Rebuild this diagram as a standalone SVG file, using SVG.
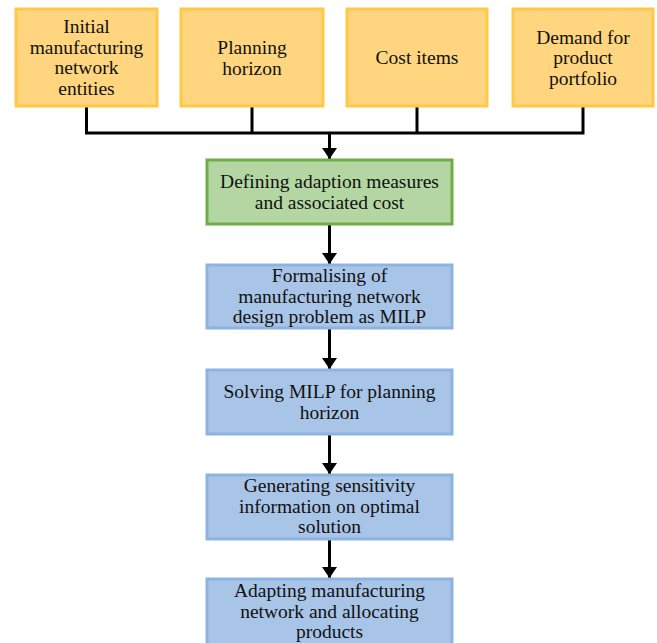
<svg xmlns="http://www.w3.org/2000/svg" width="657" height="643" viewBox="0 0 657 643">
<style>
.in rect{fill:#FFD57F;stroke:#FFC845;stroke-width:3}
.gr rect{fill:#B3D6A2;stroke:#70AD47;stroke-width:3}
.bl rect{fill:#A8C4E6;stroke:#8DB3E2;stroke-width:3}
text{font-family:"Liberation Serif","Times New Roman",serif;font-size:19.5px;fill:#111;text-anchor:middle}
.c{fill:none;stroke:#000;stroke-width:3}
</style>
<defs>
<marker id="ah" markerUnits="userSpaceOnUse" markerWidth="12" markerHeight="16" refX="11" refY="7.5" orient="auto">
<path d="M0,0 L11,7.5 L0,15 Z" fill="#000"/>
</marker>
</defs>
<rect width="657" height="643" fill="#fff"/>
<g id="connectors">
<path class="c" d="M86.5,107 V133 M252,107 V133 M417,107 V133 M583,107 V133 M85,133 H584.5"/>
<path class="c" d="M329.5,133 V159" marker-end="url(#ah)"/>
<path class="c" d="M329.5,225 V264" marker-end="url(#ah)"/>
<path class="c" d="M329.5,329 V369" marker-end="url(#ah)"/>
<path class="c" d="M329.5,435 V474" marker-end="url(#ah)"/>
<path class="c" d="M329.5,540 V578" marker-end="url(#ah)"/>
</g>
<g id="n1" class="in"><rect x="16" y="9" width="141" height="97"/>
<text x="86.5" y="33">Initial</text><text x="86.5" y="53.5">manufacturing</text><text x="86.5" y="74">network</text><text x="86.5" y="94.5">entities</text></g>
<g id="n2" class="in"><rect x="181" y="9" width="142" height="97"/>
<text x="252" y="54">Planning</text><text x="252" y="74.5">horizon</text></g>
<g id="n3" class="in"><rect x="347" y="9" width="140" height="97"/>
<text x="417" y="64">Cost items</text></g>
<g id="n4" class="in"><rect x="513" y="9" width="140" height="97"/>
<text x="583" y="43.5">Demand for</text><text x="583" y="64">product</text><text x="583" y="84.5">portfolio</text></g>
<g id="n5" class="gr"><rect x="207" y="160" width="245" height="64"/>
<text x="329.5" y="188">Defining adaption measures</text><text x="329.5" y="208.5">and associated cost</text></g>
<g id="n6" class="bl"><rect x="207" y="265" width="245" height="63"/>
<text x="329.5" y="282">Formalising of</text><text x="329.5" y="302.5">manufacturing network</text><text x="329.5" y="323">design problem as MILP</text></g>
<g id="n7" class="bl"><rect x="207" y="370" width="245" height="64"/>
<text x="329.5" y="398">Solving MILP for planning</text><text x="329.5" y="418.5">horizon</text></g>
<g id="n8" class="bl"><rect x="207" y="475" width="245" height="64"/>
<text x="329.5" y="492">Generating sensitivity</text><text x="329.5" y="512.5">information on optimal</text><text x="329.5" y="533">solution</text></g>
<g id="n9" class="bl"><rect x="207" y="579" width="245" height="70"/>
<text x="329.5" y="597">Adapting manufacturing</text><text x="329.5" y="617.5">network and allocating</text><text x="329.5" y="638">products</text></g>
</svg>
